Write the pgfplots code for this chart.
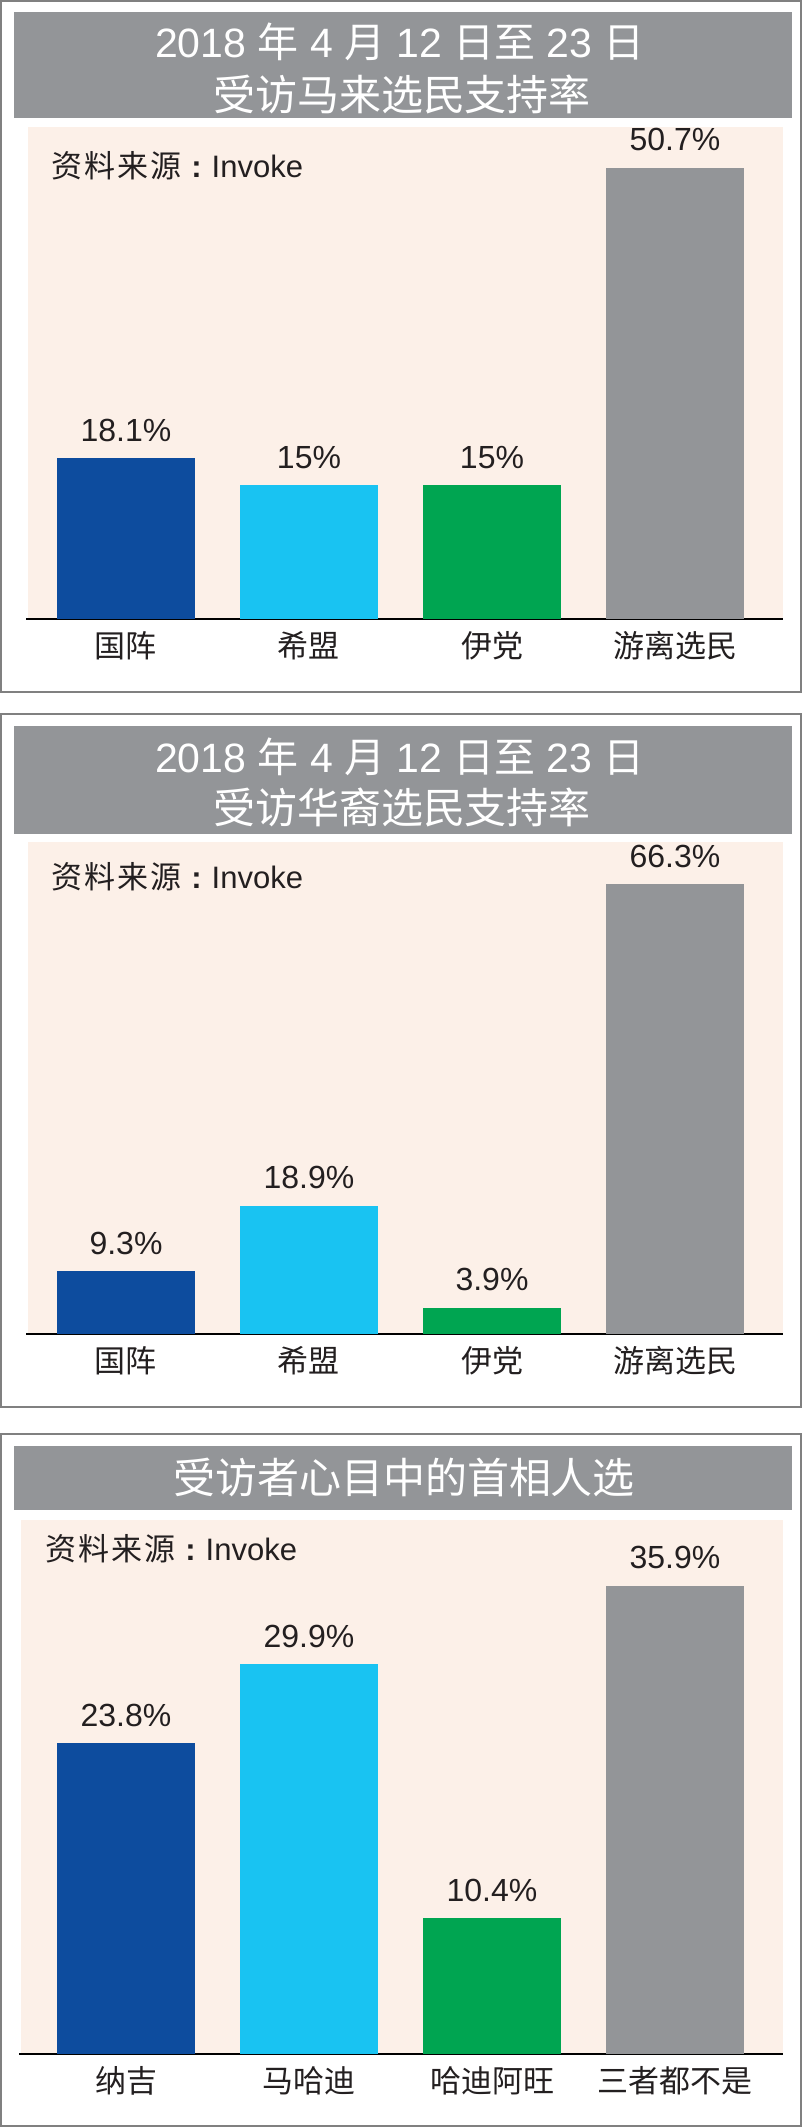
\documentclass[border=0pt]{standalone}
\usepackage{fontspec}
\setmainfont{Liberation Sans}
\newfontfamily\cjk{Noto Sans CJK SC}
\usepackage{pgfplots}
\pgfplotsset{compat=1.18}

\definecolor{cBlue}{HTML}{0D4C9E}
\definecolor{cCyan}{HTML}{19C3F2}
\definecolor{cGreen}{HTML}{00A551}
\definecolor{cGray}{HTML}{939598}
\definecolor{cPeach}{HTML}{FCF0E8}
\definecolor{cFrame}{HTML}{808080}
\definecolor{cText}{HTML}{231F20}

\newcommand{\source}{{\cjk 资\kern1pt 料\kern1pt 来\kern1pt 源}\kern5pt\textbf{:}\kern5pt Invoke}

\pgfplotsset{
  panel/.style={
    scale only axis,
    ybar,
    axis x line=bottom, axis y line=none,
    axis line style={-, black, line width=0.6pt},
    xtick={0,1,2,3}, major tick length=0pt,
    ytick=\empty,
    ymin=0, xmax=3.5902,
    clip=false,
    xticklabel style={font=\cjk\fontsize{15.5}{18}\selectfont, text=cText, anchor=center, inner sep=0pt, yshift=-13.5pt},
    nodes near coords={\pgfmathprintnumber{\pgfplotspointmeta}\%},
    every node near coord/.append style={font=\fontsize{16}{18}\selectfont, text=cText, anchor=south, inner sep=0pt, yshift=8pt},
    /pgf/number format/assume math mode=true,
    every axis plot/.append style={draw=none, bar width=69pt, bar shift=0pt},
  }
}

\begin{document}
\begin{tikzpicture}[x=0.5pt, y=-0.5pt]
\useasboundingbox (0,0) rectangle (805,2127);
\fill[white] (0,0) rectangle (805,2127);

% ---------- panel 1 ----------
\draw[cFrame, line width=0.75pt] (1,1) rectangle (801,692);
\fill[cGray] (14,11.7) rectangle (792,118);
\fill[cPeach] (28,127) rectangle (783,619);
\node[text=white, font=\fontsize{20.5}{24}\selectfont, inner sep=0pt] at (400,42) {2018 {\cjk 年} 4 {\cjk 月} 12 {\cjk 日至} 23 {\cjk 日}};
\node[text=white, font=\cjk\fontsize{21}{24}\selectfont, inner sep=0pt] at (402,94) {受访马来选民支持率};
\node[anchor=west, text=cText, font=\fontsize{15.5}{18}\selectfont, inner sep=0pt] at (51,166) {\source};

\begin{axis}[panel, at={(13pt,-309.5pt)}, anchor=south west,
  width=378.5pt, height=246pt, xmin=-0.5464, ymax=55.27,
  xticklabels={国阵,希盟,伊党,游离选民}]
\addplot[fill=cBlue]  coordinates {(0,18.1)};
\addplot[fill=cCyan]  coordinates {(1,15)};
\addplot[fill=cGreen] coordinates {(2,15)};
\addplot[fill=cGray]  coordinates {(3,50.7)};
\end{axis}

% ---------- panel 2 ----------
\draw[cFrame, line width=0.75pt] (1,714) rectangle (801,1407);
\fill[cGray] (14,726) rectangle (792,834);
\fill[cPeach] (28,842) rectangle (783,1334);
\node[text=white, font=\fontsize{20.5}{24}\selectfont, inner sep=0pt] at (400,757) {2018 {\cjk 年} 4 {\cjk 月} 12 {\cjk 日至} 23 {\cjk 日}};
\node[text=white, font=\cjk\fontsize{21}{24}\selectfont, inner sep=0pt] at (402,807) {受访华裔选民支持率};
\node[anchor=west, text=cText, font=\fontsize{15.5}{18}\selectfont, inner sep=0pt] at (51,877) {\source};

\begin{axis}[panel, at={(13pt,-667pt)}, anchor=south west,
  width=378.5pt, height=246pt, xmin=-0.5464, ymax=72.44,
  xticklabels={国阵,希盟,伊党,游离选民}]
\addplot[fill=cBlue]  coordinates {(0,9.3)};
\addplot[fill=cCyan]  coordinates {(1,18.9)};
\addplot[fill=cGreen] coordinates {(2,3.9)};
\addplot[fill=cGray]  coordinates {(3,66.3)};
\end{axis}

% ---------- panel 3 ----------
\draw[cFrame, line width=0.75pt] (1,1434) rectangle (801,2126);
\fill[cGray] (14,1446) rectangle (792,1510);
\fill[cPeach] (21,1520) rectangle (783,2054);
\node[text=white, font=\cjk\fontsize{21}{24}\selectfont, inner sep=0pt] at (404,1477) {受访者心目中的首相人选};
\node[anchor=west, text=cText, font=\fontsize{15.5}{18}\selectfont, inner sep=0pt] at (45,1549) {\source};

\begin{axis}[panel, at={(9.5pt,-1027pt)}, anchor=south west,
  width=382pt, height=267pt, xmin=-0.5847, ymax=40.92,
  xticklabels={纳吉,马哈迪,哈迪阿旺,三者都不是}]
\addplot[fill=cBlue]  coordinates {(0,23.8)};
\addplot[fill=cCyan]  coordinates {(1,29.9)};
\addplot[fill=cGreen] coordinates {(2,10.4)};
\addplot[fill=cGray]  coordinates {(3,35.9)};
\end{axis}
\end{tikzpicture}
\end{document}
